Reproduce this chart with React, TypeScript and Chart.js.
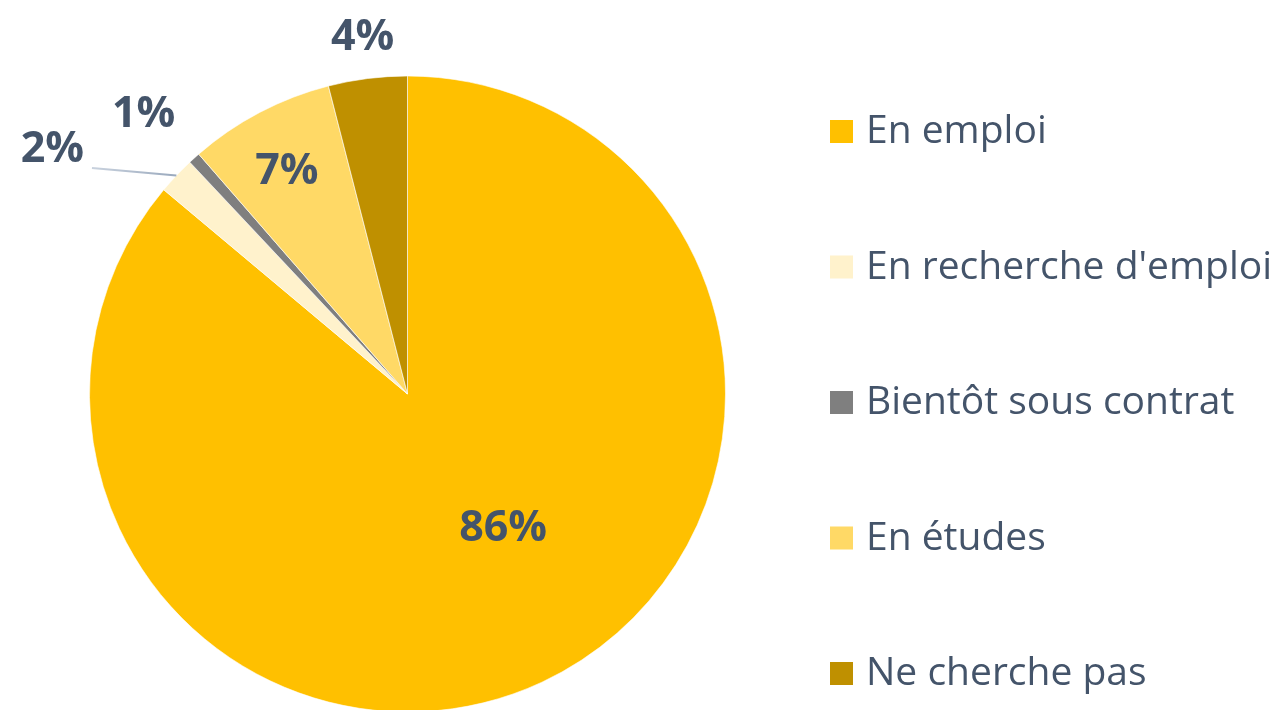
import React, { useEffect, useRef } from "react";
import { Chart, registerables } from "chart.js";

Chart.register(...registerables);

const categories = [
  "En emploi",
  "En recherche d'emploi",
  "Bientôt sous contrat",
  "En études",
  "Ne cherche pas",
];
const values = [86.1, 1.9, 0.6, 7.4, 4.0];
const colors = ["#FFC000", "#FFF2CC", "#7F7F7F", "#FFD966", "#BF9000"];

// label placement (radial factor of outer radius, angular shift in degrees)
const labelRadial = [0.52, 1.355, 1.207, 0.794, 1.128];
const labelShift = [-10.3, -8.9, -1.3, -0.8, 0];
const leaderLine = [false, true, false, false, false];

const TEXT_COLOR = "#44546A";
const LABEL_FONT = "bold 43px 'Open Sans', sans-serif";
const LEGEND_FONT = "39px 'Open Sans', sans-serif";

const labelPlugin = {
  id: "sliceLabels",
  afterDatasetsDraw(chart: any) {
    const ctx = chart.ctx;
    const meta = chart.getDatasetMeta(0);
    const total = values.reduce((a, b) => a + b, 0);
    ctx.save();
    ctx.font = LABEL_FONT;
    ctx.fillStyle = TEXT_COLOR;
    ctx.textAlign = "center";
    ctx.textBaseline = "middle";
    meta.data.forEach((arc: any, i: number) => {
      const p = arc.getProps(["x", "y", "startAngle", "endAngle", "outerRadius"], true);
      const mid = (p.startAngle + p.endAngle) / 2;
      const a = mid + (labelShift[i] * Math.PI) / 180;
      const r = p.outerRadius * labelRadial[i];
      const lx = p.x + Math.cos(a) * r;
      const ly = p.y + Math.sin(a) * r;
      const text = Math.round((values[i] / total) * 100) + "%";
      if (leaderLine[i]) {
        const sx = p.x + Math.cos(mid) * p.outerRadius;
        const sy = p.y + Math.sin(mid) * p.outerRadius;
        const w = ctx.measureText(text).width;
        const ex = lx + w / 2 + 8;
        const ey = ly + 18;
        const g = ctx.createLinearGradient(ex, ey, sx, sy);
        g.addColorStop(0, "#C9D2DE");
        g.addColorStop(1, "#9AA9BD");
        ctx.strokeStyle = g;
        ctx.lineWidth = 2;
        ctx.beginPath();
        ctx.moveTo(sx, sy);
        ctx.lineTo(ex, ey);
        ctx.stroke();
      }
      ctx.fillText(text, lx, ly);
    });
    ctx.restore();
  },
};

const legendPlugin = {
  id: "rightLegend",
  afterDraw(chart: any) {
    const ctx = chart.ctx;
    const boxX = 830;
    const box = 23;
    const textX = 866;
    const firstBottom = 143;
    const step = 135.5;
    ctx.save();
    ctx.font = LEGEND_FONT;
    ctx.textAlign = "left";
    ctx.textBaseline = "alphabetic";
    categories.forEach((c, i) => {
      const bottom = firstBottom + i * step;
      ctx.fillStyle = colors[i];
      ctx.fillRect(boxX, bottom - box, box, box);
      ctx.fillStyle = TEXT_COLOR;
      ctx.fillText(c, textX, bottom);
    });
    ctx.restore();
  },
};

export default function App() {
  const ref = useRef<HTMLCanvasElement | null>(null);
  useEffect(() => {
    if (!ref.current) return;
    const chart = new Chart(ref.current, {
      type: "pie",
      data: {
        labels: categories,
        datasets: [
          {
            data: values,
            backgroundColor: colors,
            borderColor: "#FFFFFF",
            borderWidth: 0.6,
            hoverOffset: 0,
          },
        ],
      },
      options: {
        responsive: false,
        animation: false,
        devicePixelRatio: 1,
        radius: 318,
        layout: { padding: { left: 0, right: 464, top: 58, bottom: 0 } },
        plugins: {
          legend: { display: false },
          tooltip: { enabled: false },
        },
        events: [],
      } as any,
      plugins: [labelPlugin, legendPlugin],
    });
    return () => chart.destroy();
  }, []);
  return (
    <div
      style={{
        position: "fixed",
        left: 0,
        top: 0,
        width: 1279,
        height: 710,
        overflow: "hidden",
        background: "#FFFFFF",
      }}
    >
      <canvas ref={ref} width={1279} height={730} style={{ display: "block" }} />
    </div>
  );
}
